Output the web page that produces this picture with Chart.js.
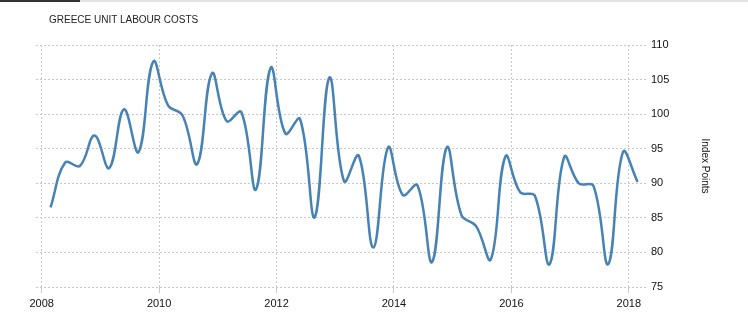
<!DOCTYPE html>
<html>
<head>
<meta charset="utf-8">
<script src="https://cdn.jsdelivr.net/npm/chart.js@4.4.1/dist/chart.umd.min.js"></script>
<style>
  html, body { margin: 0; padding: 0; background: #fff; }
  #wrap { position: relative; width: 748px; height: 321px; overflow: hidden; }
  #topbar { position: absolute; left: 0; top: 0; width: 748px; height: 2px; background: #e3e3e3; }
  #topbar span { position: absolute; left: 0; top: 0; width: 80px; height: 2px; background: #333; }
  #title { position: absolute; left: 49px; top: 14px; font: 10px "Liberation Sans", Arial, sans-serif; color: #222; }
  #chart { position: absolute; left: 0; top: 0; }
</style>
</head>
<body>
<div id="wrap">
  <div id="topbar"><span></span></div>
  <canvas id="chart" width="748" height="321"></canvas>
  <div id="title">GREECE UNIT LABOUR COSTS</div>
</div>
<script>
// Greece unit labour costs, quarterly, index points

const quarters = [
    '2008-Q1', '2008-Q2', '2008-Q3', '2008-Q4',
    '2009-Q1', '2009-Q2', '2009-Q3', '2009-Q4',
    '2010-Q1', '2010-Q2', '2010-Q3', '2010-Q4',
    '2011-Q1', '2011-Q2', '2011-Q3', '2011-Q4',
    '2012-Q1', '2012-Q2', '2012-Q3', '2012-Q4',
    '2013-Q1', '2013-Q2', '2013-Q3', '2013-Q4',
    '2014-Q1', '2014-Q2', '2014-Q3', '2014-Q4',
    '2015-Q1', '2015-Q2', '2015-Q3', '2015-Q4',
    '2016-Q1', '2016-Q2', '2016-Q3', '2016-Q4',
    '2017-Q1', '2017-Q2', '2017-Q3', '2017-Q4',
    '2018-Q1'
];

const labourCosts = [
    86.5, 93.0, 92.5, 96.9,
    92.2, 100.7, 94.5, 107.6,
    101.3, 99.8, 92.8, 105.9,
    99.0, 100.3, 89.1, 106.7,
    97.2, 99.3, 85.1, 105.3,
    90.3, 94.0, 80.7, 95.2,
    88.3, 89.7, 78.6, 95.2,
    85.4, 83.8, 79.0, 93.9,
    88.7, 88.2, 78.3, 93.8,
    90.0, 89.6, 78.3, 94.5,
    90.2
];

const xTicks = [2008, 2010, 2012, 2014, 2016, 2018];
const yTicks = [75, 80, 85, 90, 95, 100, 105, 110];

function quarterToYear(label) {
    const parts = label.split('-Q');
    return parseInt(parts[0]) + 0.15 + (parseInt(parts[1]) - 1) * 0.25;
}

const points = quarters.map(function(q, i) {
    return { x: quarterToYear(q), y: labourCosts[i] };
});

const gridColor = '#c8c8c8';
const tickFont = { family: '"Liberation Sans", Arial, sans-serif', size: 11 };

const ctx = document.getElementById('chart').getContext('2d');
new Chart(ctx, {
    type: 'line',
    data: {
        datasets: [{
            label: 'Greece Unit Labour Costs',
            data: points,
            borderColor: '#4682b4',
            borderWidth: 2.5,
            pointRadius: 0,
            fill: false,
            tension: 0.4
        }]
    },
    options: {
        responsive: false,
        animation: false,
        layout: { padding: { left: 36, right: 0, top: 45, bottom: 0 } },
        plugins: {
            legend: { display: false },
            tooltip: { enabled: false }
        },
        scales: {
            x: {
                type: 'linear',
                min: 2007.903,
                max: 2018.31,
                afterBuildTicks: function(axis) {
                    axis.ticks = xTicks.map(function(v) { return { value: v }; });
                },
                afterFit: function(axis) { axis.height = 34; },
                ticks: {
                    color: '#111',
                    font: tickFont,
                    padding: 4,
                    maxRotation: 0,
                    callback: function(value) { return String(value); }
                },
                grid: {
                    color: gridColor,
                    lineWidth: 1,
                    tickLength: 6,
                    drawTicks: true
                },
                border: { display: false, dash: [2, 2] }
            },
            y: {
                position: 'right',
                min: 75,
                max: 110,
                afterBuildTicks: function(axis) {
                    axis.ticks = yTicks.map(function(v) { return { value: v }; });
                },
                afterFit: function(axis) { axis.width = 101; },
                ticks: {
                    color: '#111',
                    font: tickFont,
                    padding: 4
                },
                grid: {
                    color: gridColor,
                    lineWidth: 1,
                    drawTicks: false
                },
                border: { display: false, dash: [2, 2] },
                title: {
                    display: true,
                    text: 'Index Points',
                    color: '#111',
                    font: { family: '"Liberation Sans", Arial, sans-serif', size: 10 },
                    padding: { top: 37, bottom: 0 }
                }
            }
        }
    }
});
</script>
</body>
</html>
